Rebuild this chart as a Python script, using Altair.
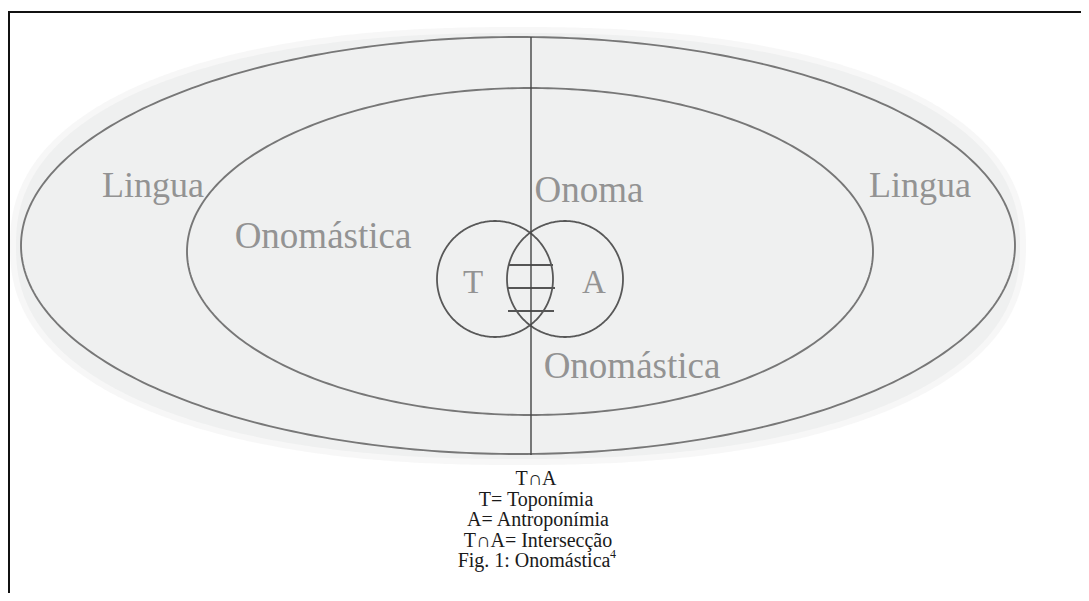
import altair as alt
import pandas as pd

# ---- diagram data (page-pixel coordinates) ----
ellipse_names = ["Lingua", "Onomástica"]
ellipse_cx = [518, 530]
ellipse_cy = [245.5, 251.5]
ellipse_rx = [497, 343]
ellipse_ry = [208.5, 163.5]

fill_cx = [518, 518]
fill_cy = [246, 246]
fill_rx = [508, 502]
fill_ry = [219, 213]
fill_opacity = [0.5, 1.0]

circle_names = ["T", "A"]
circle_cx = [495, 565]
circle_cy = [279, 279]
circle_r = [58, 58]

hatch_y = [265, 288, 311]
hatch_x1 = [509, 507, 508]
hatch_x2 = [553, 555, 554]

axis_x = [531]
axis_y1 = [37]
axis_y2 = [455]

labels = ["Lingua", "Lingua", "Onoma", "Onomástica", "Onomástica", "T", "A"]
label_x = [153, 920, 589, 323, 632, 473, 594]
label_y = [197, 197, 202, 248, 378, 293, 293]
label_size = [36, 36, 37, 37, 37, 33, 33]

caption_lines = ["T∩A", "T= Toponímia", "A= Antroponímia", "T∩A= Intersecção", "Fig. 1: Onomástica"]
caption_x = [536, 536, 538, 538, 534]
caption_y = [485, 505.5, 526, 546.5, 567]
sup_text = ["4"]
sup_x = [610]
sup_y = [558]

W, H = 1073, 585
xs = alt.Scale(domain=[8, 1081], nice=False, zero=False)
ys = alt.Scale(domain=[8, 593], nice=False, zero=False, reverse=True)


def X(f):
    return alt.X(f, type="quantitative", scale=xs, axis=None)


def Y(f):
    return alt.Y(f, type="quantitative", scale=ys, axis=None)


layers = []

# soft grey fill (superellipse-ish blob)
N = 2.3
for cx, cy, rx, ry, op in zip(fill_cx, fill_cy, fill_rx, fill_ry, fill_opacity):
    layers.append(
        alt.Chart(alt.sequence(0, 180.5, 0.5, as_="deg"))
        .transform_calculate(
            c="cos(datum.deg*PI/180)",
            s="sin(datum.deg*PI/180)",
        )
        .transform_calculate(
            x=f"{cx} + {rx}*(datum.c<0?-1:1)*pow(abs(datum.c), {2/N})",
            ytop=f"{cy} - {ry}*pow(abs(datum.s), {2/N})",
            ybot=f"{cy} + {ry}*pow(abs(datum.s), {2/N})",
        )
        .mark_area(color="#eff0f0", opacity=op, orient="vertical")
        .encode(x=X("x"), y=Y("ytop"), y2="ybot:Q")
    )

# ellipses and circles as outlines
shapes = []
for cx, cy, rx, ry in zip(ellipse_cx, ellipse_cy, ellipse_rx, ellipse_ry):
    shapes.append((cx, cy, rx, ry, "#777777", 1.9))
for cx, cy, r in zip(circle_cx, circle_cy, circle_r):
    shapes.append((cx, cy, r, r, "#585858", 1.8))

for cx, cy, rx, ry, col, sw in shapes:
    layers.append(
        alt.Chart(alt.sequence(0, 361, 1, as_="deg"))
        .transform_calculate(
            x=f"{cx} + {rx}*cos(datum.deg*PI/180)",
            y=f"{cy} + {ry}*sin(datum.deg*PI/180)",
        )
        .mark_line(color=col, strokeWidth=sw)
        .encode(x=X("x"), y=Y("y"), order="deg:Q")
    )

# hatch lines in the intersection
hatch_df = pd.DataFrame({"y": hatch_y, "x1": hatch_x1, "x2": hatch_x2})
layers.append(
    alt.Chart(hatch_df)
    .mark_rule(color="#555555", strokeWidth=1.8)
    .encode(x=X("x1"), x2="x2:Q", y=Y("y"))
)

# vertical axis line
axis_df = pd.DataFrame({"x": axis_x, "y1": axis_y1, "y2": axis_y2})
layers.append(
    alt.Chart(axis_df)
    .mark_rule(color="#444444", strokeWidth=1.4)
    .encode(x=X("x"), y=Y("y1"), y2="y2:Q")
)

# frame (top and left borders)
frame_df = pd.DataFrame({"x1": [8, 9], "x2": [1081, 9], "y1": [12, 12], "y2": [12, 593]})
layers.append(
    alt.Chart(frame_df)
    .mark_rule(color="#111111", strokeWidth=2)
    .encode(x=X("x1"), x2="x2:Q", y=Y("y1"), y2="y2:Q")
)

# grey labels
lab_df = pd.DataFrame({"t": labels, "x": label_x, "y": label_y, "s": label_size})
layers.append(
    alt.Chart(lab_df)
    .mark_text(font="Liberation Serif", align="center", baseline="alphabetic", color="#939393")
    .encode(x=X("x"), y=Y("y"), text="t:N", size=alt.Size("s:Q", scale=None, legend=None))
)

# caption
cap_df = pd.DataFrame({"t": caption_lines, "x": caption_x, "y": caption_y})
layers.append(
    alt.Chart(cap_df)
    .mark_text(font="Liberation Serif", fontSize=20, align="center", baseline="alphabetic", color="#1a1a1a")
    .encode(x=X("x"), y=Y("y"), text="t:N")
)
sup_df = pd.DataFrame({"t": sup_text, "x": sup_x, "y": sup_y})
layers.append(
    alt.Chart(sup_df)
    .mark_text(font="Liberation Serif", fontSize=12, align="left", baseline="alphabetic", color="#1a1a1a")
    .encode(x=X("x"), y=Y("y"), text="t:N")
)

chart = (
    alt.layer(*layers)
    .properties(width=W, height=H, autosize="none", padding=0, background="white")
    .configure_view(stroke=None)
)

chart.save("out.html", embed_options={"renderer": "svg", "actions": False})
